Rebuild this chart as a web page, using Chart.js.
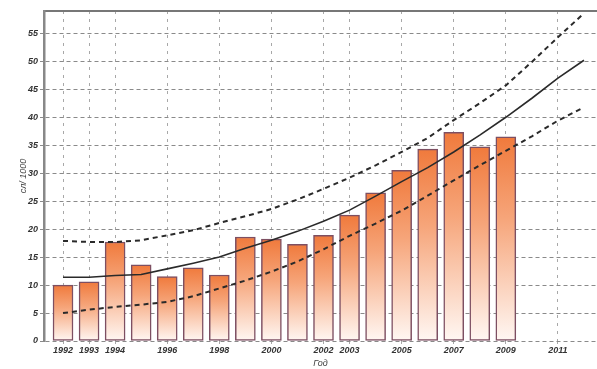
<!DOCTYPE html>
<html>
<head>
<meta charset="utf-8">
<script src="https://cdn.jsdelivr.net/npm/chart.js@4/dist/chart.umd.min.js"></script>
<style>
  html, body { margin: 0; padding: 0; background: #fff; }
  #wrap { width: 597px; height: 369px; position: relative; }
</style>
</head>
<body>
<div id="wrap"><canvas id="chart"></canvas></div>
<script>
// bar data (one bar per year)
const barYears = [1992,1993,1994,1995,1996,1997,1998,1999,2000,2001,2002,2003,2004,2005,2006,2007,2008,2009];
const barValues = [10.0,10.6,17.7,13.6,11.5,13.1,11.8,18.6,18.2,17.3,18.9,22.5,26.5,30.5,34.3,37.3,34.7,36.5];

// trend and band lines
const lineYears = [1992,1993,1994,1995,1996,1997,1998,1999,2000,2001,2002,2003,2004,2005,2006,2007,2008,2009,2010,2011,2012];
const trend = [11.4,11.4,11.7,11.9,12.9,13.9,15.0,16.6,18.0,19.6,21.4,23.4,25.9,28.5,31.0,33.8,36.8,40.0,43.4,47.0,50.2];
const upper = [17.9,17.7,17.7,18.0,18.9,19.8,21.1,22.3,23.6,25.3,27.2,29.2,31.4,33.8,36.3,39.5,42.5,45.7,49.9,54.3,58.6];
const lower = [5.0,5.6,6.1,6.5,7.0,8.0,9.4,10.8,12.4,14.2,16.4,18.8,21.0,23.3,26.0,28.7,31.4,34.0,36.6,39.4,41.8];

const xTicks = [1992,1993,1994,1996,1998,2000,2002,2003,2005,2007,2009,2011];
const yLabel = 'сл/ 1000';
const xLabel = 'Год';

function pts(xs, ys){ return xs.map((x,i)=>({x:x, y:ys[i]})); }

function barFill(ctx){
  const chart = ctx.chart;
  if (!chart.chartArea || !ctx.parsed) return '#f28048';
  const ys = chart.scales.y;
  const top = ys.getPixelForValue(ctx.parsed.y);
  const bot = ys.getPixelForValue(0);
  const g = chart.ctx.createLinearGradient(0, top, 0, bot);
  g.addColorStop(0, '#f07a3c');
  g.addColorStop(0.4, '#f6a57a');
  g.addColorStop(1, '#fff7f3');
  return g;
}

const tickFont = { family: 'Liberation Sans', size: 9, style: 'italic', weight: 'bold' };

new Chart(document.getElementById('chart'), {
  type: 'bar',
  data: {
    datasets: [
      { type: 'line', data: pts(lineYears, trend), borderColor: '#2a2a2a', borderWidth: 1.6, pointRadius: 0, order: 0, tension: 0 },
      { type: 'line', data: pts(lineYears, upper), borderColor: '#2a2a2a', borderWidth: 2, borderDash: [5,4], pointRadius: 0, order: 0, tension: 0 },
      { type: 'line', data: pts(lineYears, lower), borderColor: '#2a2a2a', borderWidth: 2, borderDash: [5,4], pointRadius: 0, order: 0, tension: 0 },
      { type: 'bar', data: pts(barYears, barValues), backgroundColor: barFill, borderColor: '#7d4f62', borderWidth: 1.5, barThickness: 20, borderSkipped: false, order: 1 }
    ]
  },
  options: {
    responsive: true,
    maintainAspectRatio: false,
    animation: false,
    layout: { padding: { top: 11, right: 0, left: 0, bottom: 0 } },
    plugins: { legend: { display: false }, tooltip: { enabled: false } },
    scales: {
      x: {
        type: 'linear',
        offset: false,
        min: 1991.27,
        max: 2012.5,
        afterBuildTicks: (s) => { s.ticks = xTicks.map(v => ({ value: v })); },
        afterFit: (s) => { s.height = 28; },
        ticks: { font: tickFont, color: '#333', padding: 1, maxRotation: 0, autoSkip: false, callback: (v) => String(v) },
        grid: { color: '#a8a8a8', tickLength: 3, drawTicks: true, offset: false },
        border: { display: false, dash: [3,5] },
        title: { display: true, text: xLabel, font: { family: 'Liberation Sans', size: 9, style: 'italic' }, color: '#444', padding: { top: 0, bottom: 0 } }
      },
      x2: {
        type: 'linear',
        position: 'top',
        min: 1991.27,
        max: 2012.5,
        ticks: { display: false },
        grid: { display: false },
        border: { display: true, color: '#777', width: 2 },
        afterFit: (s) => { s.height = 0; }
      },
      y: {
        min: 0,
        max: 59,
        afterBuildTicks: (s) => { s.ticks = s.ticks.filter(t => t.value % 5 === 0); },
        afterFit: (s) => { s.width = 44; },
        ticks: { stepSize: 5, font: tickFont, color: '#333', padding: 2 },
        grid: { color: '#8a8a8a', tickLength: 4 },
        border: { display: true, color: '#888', width: 2.5, dash: [4,3] },
        title: { display: true, text: yLabel, font: { family: 'Liberation Sans', size: 9, style: 'italic' }, color: '#444', padding: { top: 18, bottom: 0 } }
      }
    }
  }
});
</script>
</body>
</html>
